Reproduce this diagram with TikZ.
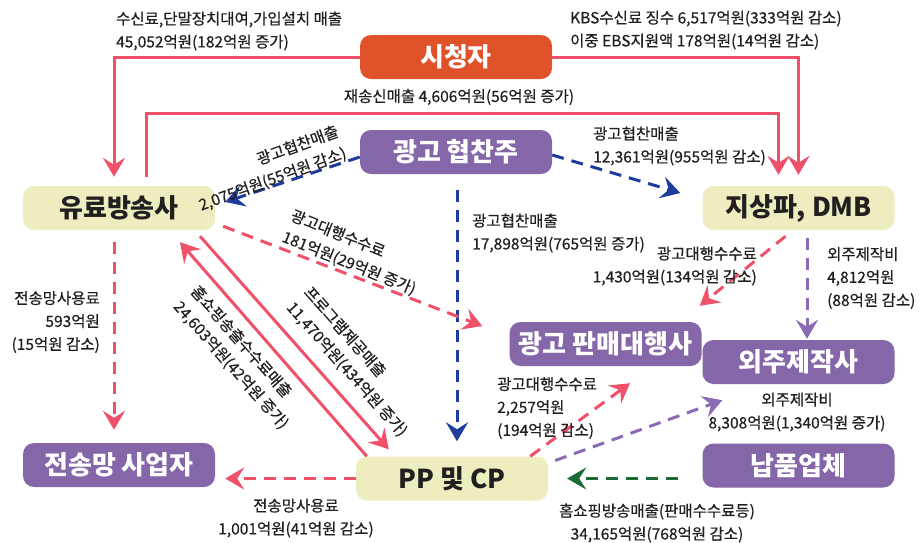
\documentclass[tikz,border=0pt]{standalone}
\usepackage{fontspec}
\setmainfont{Noto Sans CJK KR}
\newfontface\lblfont{Noto Sans CJK KR}[FakeBold=0.6]
\usetikzlibrary{arrows.meta,calc}
\definecolor{pk}{HTML}{EF506A}
\definecolor{bl}{HTML}{1E3C9C}
\definecolor{pu}{HTML}{8566A8}
\definecolor{pul}{HTML}{8B6BB6}
\definecolor{og}{HTML}{E05229}
\definecolor{yl}{HTML}{EDEDBF}
\definecolor{gr}{HTML}{1B6B36}
\definecolor{tx}{HTML}{231F20}
\begin{document}
\begin{tikzpicture}[x=1pt,y=-1pt,
  box/.style={rounded corners=11pt, minimum width=192pt, minimum height=44pt, inner sep=0pt, font=\bfseries\fontsize{26}{30}\selectfont},
  ybox/.style={box, fill=yl, text=tx},
  pbox/.style={box, fill=pu, text=white},
  obox/.style={box, fill=og, text=white},
  lbl/.style={inner sep=0pt, text=tx, font=\lblfont\fontsize{15.5}{23}\selectfont},
  arr/.style={-{Stealth[length=19pt,width=22pt,inset=7pt]}},
  dsh/.style={dash pattern=on 12pt off 8pt},
  spk/.style={draw=pk, line width=3pt, arr},
  dpk/.style={draw=pk, line width=3pt, dsh, arr},
  dbl/.style={draw=bl, line width=3pt, dsh, arr},
  dpu/.style={draw=pul, line width=3pt, dsh, arr},
  dgr/.style={draw=gr, line width=3pt, dsh, arr}
]
\useasboundingbox (0,0) rectangle (922,542);

% boxes
\node[obox] (sich) at (456,57) {시청자};
\node[pbox] (ad) at (456,152) {광고 협찬주};
\node[ybox] (yur) at (119,208) {유료방송사};
\node[ybox] (jis) at (798.5,208) {지상파, DMB};
\node[pbox] (pan) at (605.5,344) {광고 판매대행사};
\node[pbox] (oej) at (798.5,362) {외주제작사};
\node[pbox] (jeon) at (119,465) {전송망 사업자};
\node[ybox] (pp) at (452,478.5) {PP 및 CP};
\node[pbox] (nap) at (798.5,465.5) {납품업체};

\coordinate (rs) at (456,113);

% connectors
\draw[spk] (sich.west) -| ([xshift=-5pt,yshift=9pt]yur.north);
\draw[spk] (sich.east) -| ([yshift=11pt]jis.north);
\draw[spk] ([xshift=27pt,yshift=9pt]yur.north) |- (rs) -| ([xshift=-20pt,yshift=11pt]jis.north);
\draw[dbl] ([yshift=-5pt]ad.west) -- ([xshift=10pt,yshift=6pt]yur.east);
\draw[dbl] ([yshift=-3pt]ad.east) -- ([xshift=-22pt,yshift=15pt]jis.west);
\draw[dbl] ([xshift=1pt,yshift=-16pt]ad.south) -- ([xshift=5pt,yshift=15pt]pp.north);
\draw[dpk] ([xshift=8pt,yshift=4pt]yur.south east) -- ([xshift=-27pt,yshift=18pt]pan.west);
\draw[spk] ([xshift=81pt,yshift=-6pt]yur.south) -- ([xshift=33pt,yshift=7pt]pp.north west);
\draw[spk] ([xshift=11pt]pp.north west) -- ([xshift=61pt,yshift=-12pt]yur.south);
\draw[dpk] ([xshift=-5pt,yshift=-12pt]yur.south) -- ([xshift=-5pt,yshift=13pt]jeon.north);
\draw[dpk] (pp.west) -- ([xshift=10pt,yshift=-13.5pt]jeon.east);
\draw[dpk] ([xshift=-13pt,yshift=-6pt]jis.south) -- ([xshift=-2pt,yshift=16pt]pan.north east);
\draw[dpu] ([xshift=8.5pt,yshift=-8pt]jis.south) -- ([xshift=8.5pt,yshift=1pt]oej.north);
\draw[dpk] ([xshift=-18pt]pp.north east) -- ([xshift=24.5pt,yshift=-17pt]pan.south);
\draw[dpu] ([xshift=7pt,yshift=18pt]pp.east) -- ([xshift=20pt,yshift=-16pt]oej.south west);
\draw[dgr] ([xshift=-24pt,yshift=-13pt]nap.west) -- ([xshift=19pt]pp.east);

% labels
\node[lbl, anchor=west, align=left] (l1) at (116,31) {수신료,단말장치대여,가입설치 매출\\45,052억원(182억원 증가)};
\node[lbl, anchor=west, align=left] (l2) at (570,30) {KBS수신료 징수 6,517억원(333억원 감소)\\이중 EBS지원액 178억원(14억원 감소)};
\node[lbl] (l3) at (459,97) {재송신매출 4,606억원(56억원 증가)};
\node[lbl, anchor=east, align=right, rotate=20] (l4) at (342,142) {광고협찬매출\\2,075억원(55억원 감소)};
\node[lbl, anchor=west, align=left] (l5) at (593,146) {광고협찬매출\\12,361억원(955억원 감소)};
\node[lbl, anchor=west, align=left] (l6) at (472,233) {광고협찬매출\\17,898억원(765억원 증가)};
\node[lbl, anchor=west, align=left, rotate=-22] (l7) at (287,226) {광고대행수수료\\181억원(29억원 증가)};
\node[lbl, anchor=east, align=right] (l8) at (757,266) {광고대행수수료\\1,430억원(134억원 감소)};
\node[lbl, anchor=west, align=left] (l9) at (827,278) {외주제작비\\4,812억원\\(88억원 감소)};
\node[lbl, anchor=east, align=right] (l10) at (100,322) {전송망사용료\\593억원\\(15억원 감소)};
\node[lbl, anchor=west, align=left, rotate=-48.5] (l11) at (298,297) {프로그램제공매출\\11,470억원(434억원 증가)};
\node[lbl, anchor=west, align=left, rotate=-48.5] (l12) at (185,296) {홈쇼핑송출수수료매출\\24,603억원(42억원 증가)};
\node[lbl, anchor=west, align=left] (l13) at (497,408) {광고대행수수료\\2,257억원\\(194억원 감소)};
\node[lbl, align=center] (l14) at (797,412) {외주제작비\\8,308억원(1,340억원 증가)};
\node[lbl, align=center] (l15) at (296,518) {전송망사용료\\1,001억원(41억원 감소)};
\node[lbl, align=center] (l16) at (657,523) {홈쇼핑방송매출(판매수수료등)\\34,165억원(768억원 감소)};
\end{tikzpicture}
\end{document}
